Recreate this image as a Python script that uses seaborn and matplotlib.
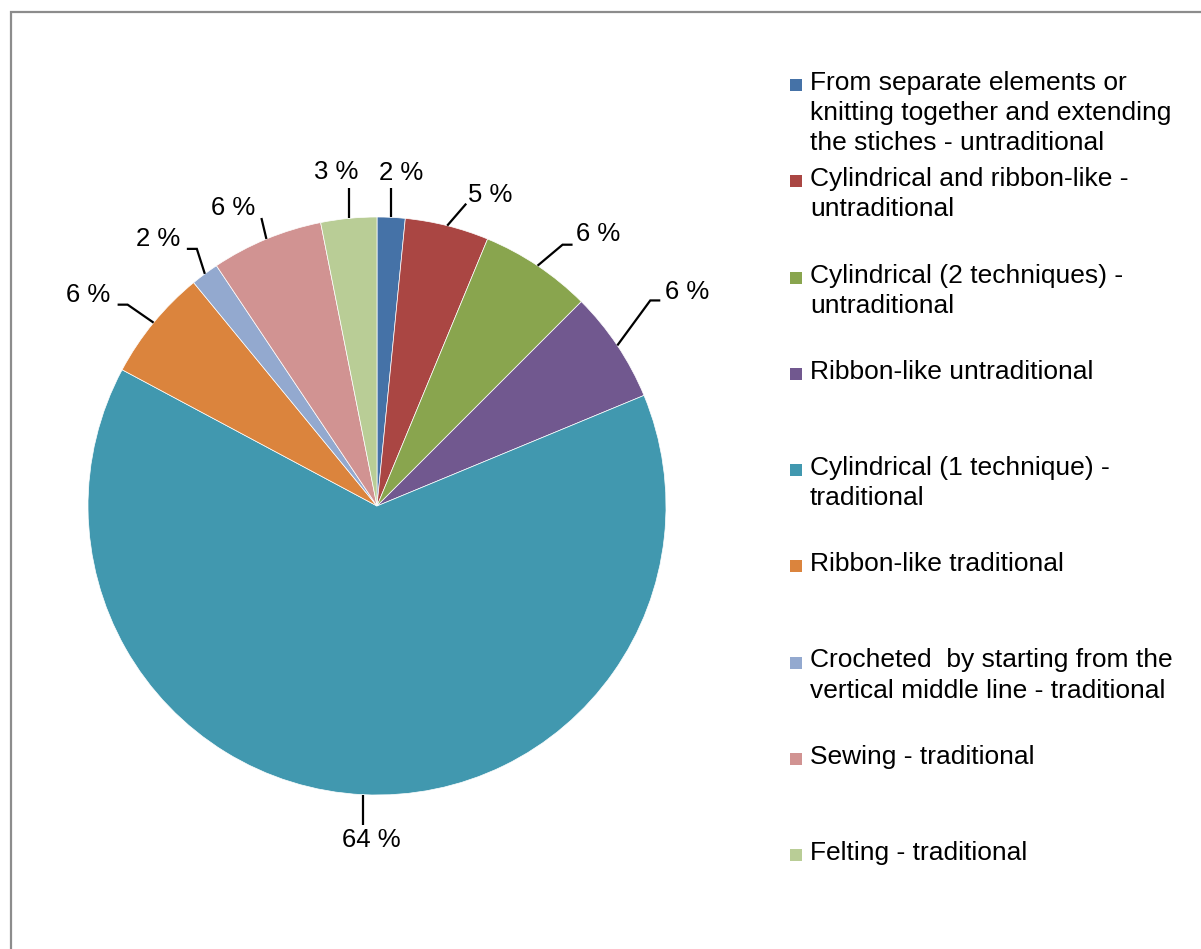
import matplotlib
matplotlib.use("Agg")
import matplotlib.pyplot as plt
import seaborn as sns
import numpy as np
from matplotlib.patches import Rectangle

# ---- data ----
categories = [
    "From separate elements or\nknitting together and extending\nthe stiches - untraditional",
    "Cylindrical and ribbon-like -\nuntraditional",
    "Cylindrical (2 techniques) -\nuntraditional",
    "Ribbon-like untraditional",
    "Cylindrical (1 technique) -\ntraditional",
    "Ribbon-like traditional",
    "Crocheted  by starting from the\nvertical middle line - traditional",
    "Sewing - traditional",
    "Felting - traditional",
]
counts = [1, 3, 4, 4, 41, 4, 1, 4, 2]
colors = ["#4572A7", "#AA4643", "#89A54E", "#71588F", "#4198AF",
          "#DB843D", "#93A9CF", "#D19392", "#B9CD96"]

# ---- label styling (pixel offsets) ----
leader = [(0, -29), (19, -22), (25, -21), (33, -45), (0, 30),
          (-26, -18), (-8, -25), (-5, -21), (0, -30)]
tail = [0, 0, 10, 10, 0, -10, -10, 0, 0]
label_off = [(10, -15), (24, -9), (26, -11), (27, -8), (8, 15),
             (-29, -10), (-29, -10), (-28, -10), (-12, -16)]

sns.set_theme(style="white")
plt.rcParams['font.family'] = ['Liberation Sans', 'DejaVu Sans']

W, H = 1201, 949
fig = plt.figure(figsize=(W / 100, H / 100), dpi=100)
fig.patch.set_facecolor("white")
ax = fig.add_axes([0, 0, 1, 1])
ax.set_facecolor("white")

palette = sns.color_palette(colors)
wedges, _ = ax.pie(counts, colors=palette, startangle=90, counterclock=False,
                   radius=1.0, wedgeprops=dict(edgecolor="white", linewidth=0.5))

cx, cy, R = 377, 506, 289
ax.set_xlim(-cx / R, (W - cx) / R)
ax.set_ylim(-(H - cy) / R, cy / R)
ax.set_aspect("auto")
ax.axis("off")

FS = 18.5
total = sum(counts)
for i, (w, c) in enumerate(zip(wedges, counts)):
    pct = 100.0 * c / total
    ang = np.deg2rad((w.theta1 + w.theta2) / 2)
    x0, y0 = np.cos(ang), np.sin(ang)
    x1 = x0 + leader[i][0] / R
    y1 = y0 - leader[i][1] / R
    x2 = x1 + tail[i] / R
    y2 = y1
    ax.plot([x0, x1, x2], [y0, y1, y2], color="black", lw=1.6,
            solid_capstyle="butt", solid_joinstyle="miter")
    tx = x2 + label_off[i][0] / R
    ty = y2 - label_off[i][1] / R
    ax.text(tx, ty, f"{pct:.0f} %", ha="center", va="center",
            fontsize=FS, color="black")

# ---- legend (manual, Excel-like slots) ----
first_y = 83
slot = 96.25
LFS = 19
for i, (lab, col) in enumerate(zip(categories, palette)):
    yc = first_y + i * slot
    fig.patches.append(Rectangle((790 / W, 1 - (yc + 8) / H), 12 / W, 12 / H,
                                 transform=fig.transFigure, facecolor=col,
                                 edgecolor="none"))
    fig.text(810 / W, 1 - (yc - 12) / H, lab, ha="left", va="top",
             fontsize=LFS, linespacing=1.32, color="black")

# ---- outer border ----
fig.patches.append(Rectangle((10.5 / W, -0.1), 1.2, 1 - 12 / H + 0.1,
                             transform=fig.transFigure, facecolor="none",
                             edgecolor="#8c8c8c", linewidth=1.6))

fig.savefig("out.png", dpi=100, facecolor="white")
